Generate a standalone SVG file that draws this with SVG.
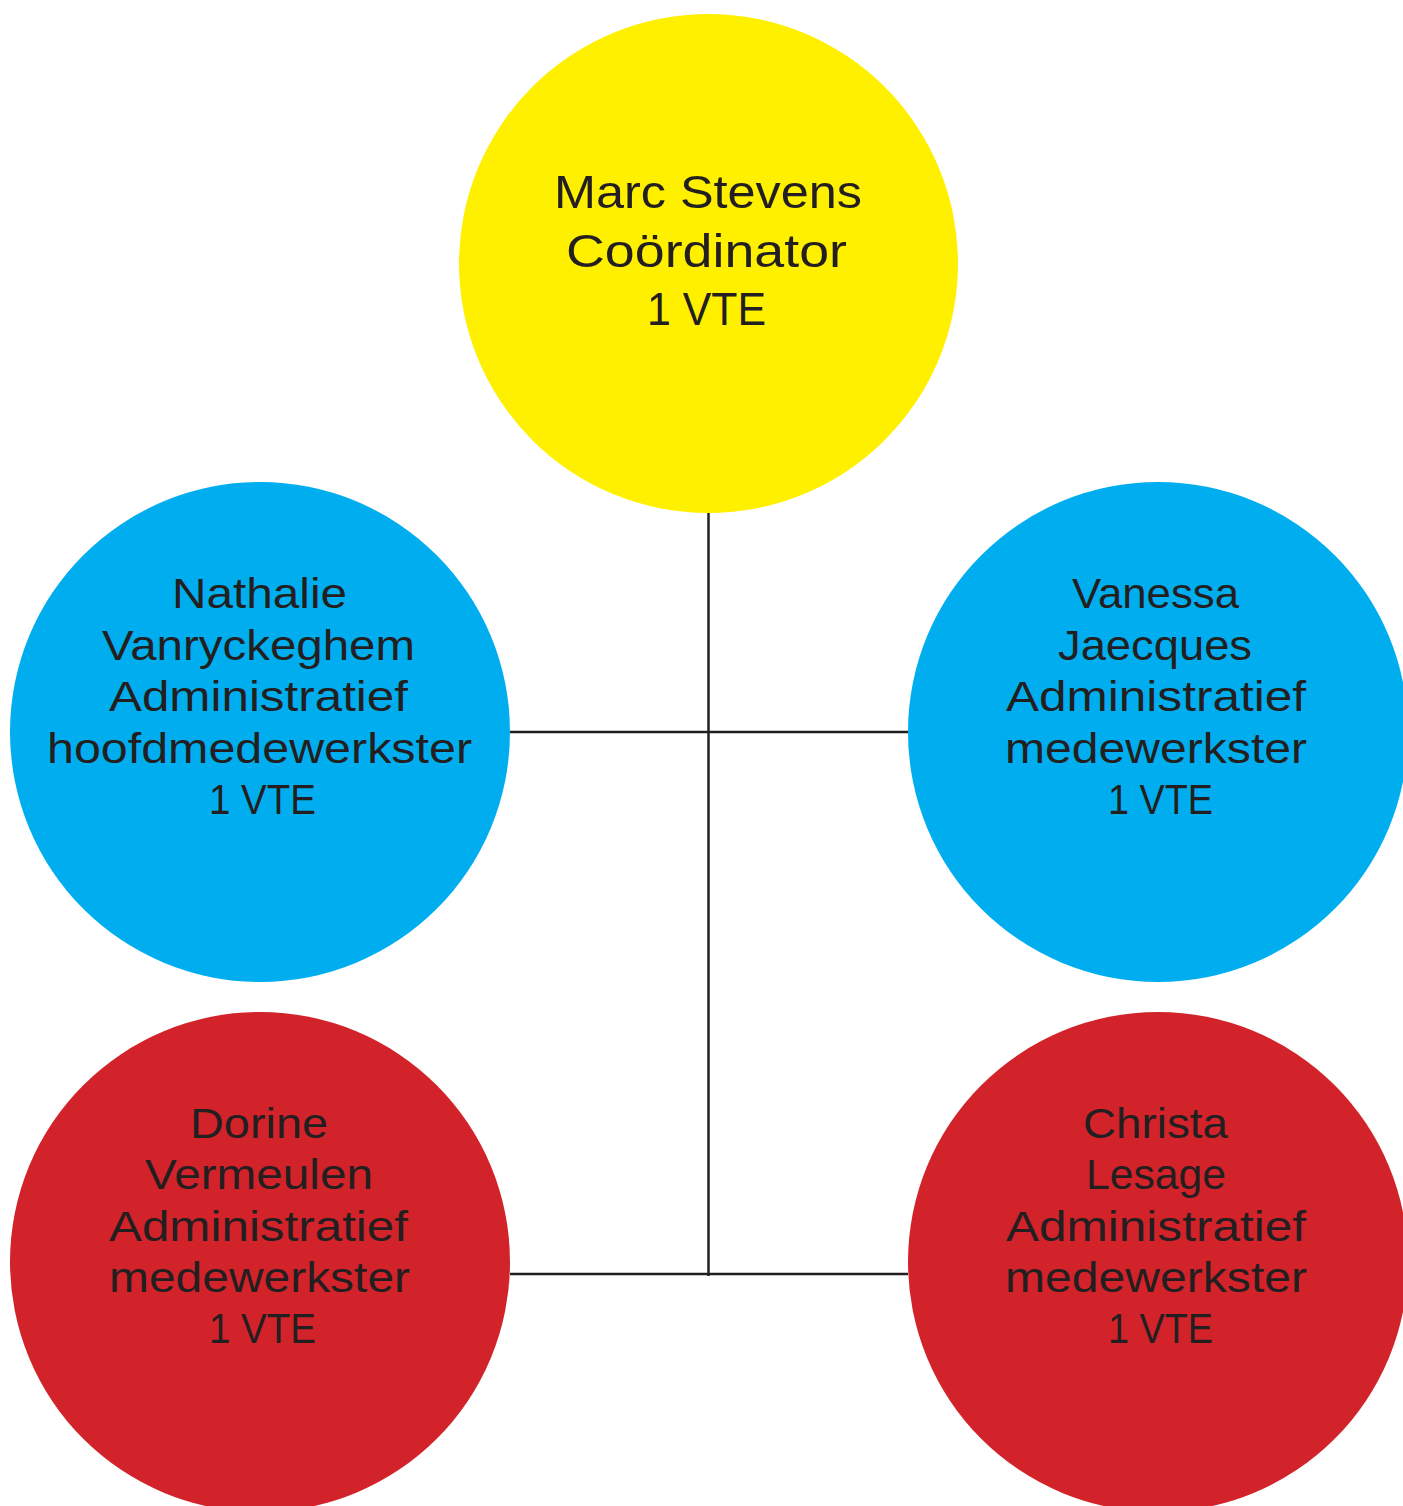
<svg xmlns="http://www.w3.org/2000/svg" width="1403" height="1506" viewBox="0 0 1403 1506">
<style>
.t{font-family:"Liberation Sans","Noto Sans",Arial,sans-serif;fill:#231f20;text-anchor:middle}
.s{font-size:43px}
.b{font-size:46px}
.ln{stroke:#231f20;stroke-width:2.5;fill:none}
</style>
<rect width="1403" height="1506" fill="#ffffff"/>
<g id="connectors">
<line class="ln" x1="708.5" y1="513" x2="708.5" y2="1276"/>
<line class="ln" x1="510" y1="732" x2="908" y2="732"/>
<line class="ln" x1="510" y1="1274" x2="908" y2="1274"/>
</g>
<g id="marc">
<circle cx="708.5" cy="263.5" r="249.5" fill="#fff000"/>
<text class="t b" x="708" y="208" textLength="308" lengthAdjust="spacingAndGlyphs">Marc Stevens</text>
<text class="t b" x="706.5" y="267" textLength="281" lengthAdjust="spacingAndGlyphs">Coördinator</text>
<text class="t b" x="706.5" y="325" textLength="119" lengthAdjust="spacingAndGlyphs">1 VTE</text>
</g>
<g id="nathalie">
<circle cx="260" cy="732" r="250" fill="#00aeef"/>
<text class="t s" x="259.5" y="608" textLength="175" lengthAdjust="spacingAndGlyphs">Nathalie</text>
<text class="t s" x="258.5" y="660" textLength="313" lengthAdjust="spacingAndGlyphs">Vanryckeghem</text>
<text class="t s" x="258.5" y="711" textLength="299" lengthAdjust="spacingAndGlyphs">Administratief</text>
<text class="t s" x="259.5" y="763" textLength="425" lengthAdjust="spacingAndGlyphs">hoofdmedewerkster</text>
<text class="t s" x="262.5" y="814" textLength="107" lengthAdjust="spacingAndGlyphs">1 VTE</text>
</g>
<g id="vanessa">
<circle cx="1158" cy="732" r="250" fill="#00aeef"/>
<text class="t s" x="1155.5" y="608" textLength="167" lengthAdjust="spacingAndGlyphs">Vanessa</text>
<text class="t s" x="1155" y="660" textLength="194" lengthAdjust="spacingAndGlyphs">Jaecques</text>
<text class="t s" x="1156" y="711" textLength="300" lengthAdjust="spacingAndGlyphs">Administratief</text>
<text class="t s" x="1156" y="763" textLength="302" lengthAdjust="spacingAndGlyphs">medewerkster</text>
<text class="t s" x="1160.5" y="814" textLength="105" lengthAdjust="spacingAndGlyphs">1 VTE</text>
</g>
<g id="dorine">
<circle cx="260" cy="1262" r="250" fill="#d2232a"/>
<text class="t s" x="259" y="1138" textLength="138" lengthAdjust="spacingAndGlyphs">Dorine</text>
<text class="t s" x="259" y="1189" textLength="228" lengthAdjust="spacingAndGlyphs">Vermeulen</text>
<text class="t s" x="258.5" y="1241" textLength="299" lengthAdjust="spacingAndGlyphs">Administratief</text>
<text class="t s" x="259.5" y="1292" textLength="301" lengthAdjust="spacingAndGlyphs">medewerkster</text>
<text class="t s" x="262.5" y="1343" textLength="107" lengthAdjust="spacingAndGlyphs">1 VTE</text>
</g>
<g id="christa">
<circle cx="1158" cy="1262" r="250" fill="#d2232a"/>
<text class="t s" x="1155.5" y="1138" textLength="145" lengthAdjust="spacingAndGlyphs">Christa</text>
<text class="t s" x="1156" y="1189" textLength="140" lengthAdjust="spacingAndGlyphs">Lesage</text>
<text class="t s" x="1156" y="1241" textLength="300" lengthAdjust="spacingAndGlyphs">Administratief</text>
<text class="t s" x="1156" y="1292" textLength="302" lengthAdjust="spacingAndGlyphs">medewerkster</text>
<text class="t s" x="1160.5" y="1343" textLength="105" lengthAdjust="spacingAndGlyphs">1 VTE</text>
</g>
</svg>
